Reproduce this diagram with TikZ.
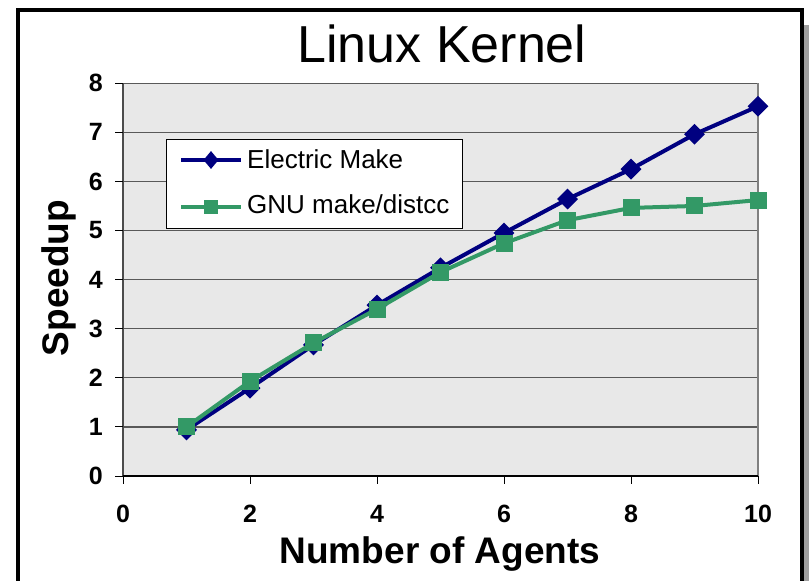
\documentclass[tikz,border=0pt]{standalone}
\usepackage{fontspec}
\setmainfont{Liberation Sans}
\usetikzlibrary{shapes.geometric,positioning}
\definecolor{emblue}{RGB}{0,0,128}
\definecolor{gnugreen}{RGB}{51,153,102}
\definecolor{plotgray}{RGB}{232,232,232}

\begin{document}
\begin{tikzpicture}[x=1pt,y=-1pt,
  ticklabel/.style={font=\fontsize{25}{25}\selectfont\bfseries,inner sep=0pt},
  axislabel/.style={font=\fontsize{37}{37}\selectfont\bfseries,inner sep=0pt},
  emline/.style={emblue,line width=4pt,line join=round},
  gnuline/.style={gnugreen,line width=4pt,line join=round},
  emmark/.style={diamond,fill=emblue,inner sep=0pt,minimum size=21pt},
  gnumark/.style={rectangle,fill=gnugreen,inner sep=0pt,minimum size=17pt}]
\useasboundingbox (0,0) rectangle (809,581);
% frame with shadow
\fill[gray!75] (803,25) rectangle (809,600);
\draw[line width=3.5pt] (18,600) -- (18,10) -- (802,10) -- (802,600);
% title and axis labels
\node[font=\fontsize{52}{52}\selectfont,inner sep=0pt,anchor=base] (title) at (442,62) {Linux Kernel};
\node[axislabel,anchor=base] (xlabel) at (440,563) {Number of Agents};
\node[axislabel,anchor=base,rotate=90] (ylabel) at (68,278) {Speedup};
% plot area
\begin{scope}[shift={(123,476)},x=63.5pt,y=49.1pt]
\fill[plotgray] (0,0) rectangle (10,8);
\foreach \y in {1,...,8}
  \draw[black!65,line width=1.2pt] (0,\y) -- (10,\y);
\draw[gray,line width=1.2pt] (10,0) -- (10,8);
\draw[black!70,line width=1.2pt] (0,0) -- (0,8);
\draw[black,line width=1.2pt] (0,0) -- (10,0);
\foreach \y in {0,...,8}{
  \draw[line width=1pt] (0,\y) -- ++(-8pt,0pt);
  \node[ticklabel,anchor=east] (ytick\y) at ([xshift=-20pt]0,\y) {\y};
}
\foreach \x in {0,2,...,10}{
  \draw[line width=1pt] (\x,0) -- ++(0pt,-8pt);
  \node[ticklabel] (xtick\x) at ([yshift=-38pt]\x,0) {\x};
}
% Electric Make
\draw[emline] plot coordinates {(1,0.94) (2,1.79) (3,2.67) (4,3.48) (5,4.24)
  (6,4.95) (7,5.64) (8,6.25) (9,6.96) (10,7.53)};
\foreach \x/\y in {1/0.94,2/1.79,3/2.67,4/3.48,5/4.24,6/4.95,7/5.64,8/6.25,9/6.96,10/7.53}
  \node[emmark] (em\x) at (\x,\y) {};
% GNU make/distcc
\draw[gnuline] plot coordinates {(1,1.0) (2,1.93) (3,2.71) (4,3.40) (5,4.15)
  (6,4.74) (7,5.21) (8,5.46) (9,5.50) (10,5.62)};
\foreach \x/\y in {1/1.0,2/1.93,3/2.71,4/3.40,5/4.15,6/4.74,7/5.21,8/5.46,9/5.50,10/5.62}
  \node[gnumark] (gnu\x) at (\x,\y) {};
\end{scope}
% legend
\node[draw,fill=white,line width=1pt,minimum width=296pt,minimum height=89pt,anchor=north west] (legend) at (166,139) {};
\draw[emblue,line width=3.5pt] (181,160) -- (241,160);
\node[diamond,fill=emblue,inner sep=0pt,minimum width=15pt,minimum height=18pt] (legem) at (211,160) {};
\node[font=\fontsize{26}{26}\selectfont,inner sep=0pt,anchor=base west] (legemtext) at (247,168) {Electric Make};
\draw[gnugreen,line width=3.5pt] (181,207) -- (241,207);
\node[gnumark,minimum size=14pt] (leggnu) at (211,207) {};
\node[font=\fontsize{26}{26}\selectfont,inner sep=0pt,anchor=base west] (leggnutext) at (247,213) {GNU make/distcc};
\end{tikzpicture}
\end{document}
